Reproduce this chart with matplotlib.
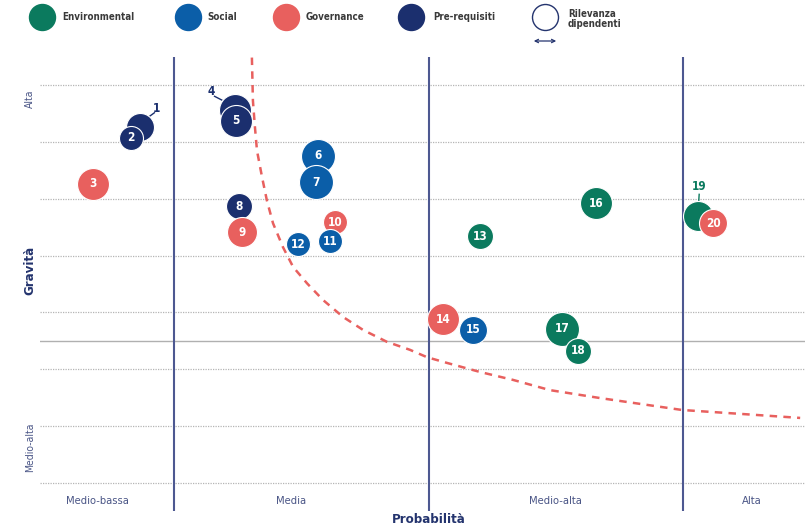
import matplotlib
matplotlib.use("Agg")
import matplotlib.pyplot as plt
from matplotlib import font_manager

names = {f.name for f in font_manager.fontManager.ttflist}
fam = "Liberation Sans Narrow" if "Liberation Sans Narrow" in names else "DejaVu Sans"
plt.rcParams['font.family'] = [fam, 'DejaVu Sans']
plt.rcParams['font.stretch'] = 'condensed'

# ---------------- data ----------------
ids = ["1", "2", "3", "4", "5", "6", "7", "8", "9", "10",
       "11", "12", "13", "14", "15", "16", "17", "18", "19", "20"]
categoria = ["Pre-requisiti", "Pre-requisiti", "Governance", "Pre-requisiti", "Pre-requisiti",
             "Social", "Social", "Pre-requisiti", "Governance", "Governance",
             "Social", "Social", "Environmental", "Governance", "Social",
             "Environmental", "Environmental", "Environmental", "Environmental", "Governance"]
probabilita = [0.866, 0.831, 0.682, 1.240, 1.244, 1.566, 1.558, 1.255, 1.267, 1.633,
               1.613, 1.487, 2.202, 2.057, 2.175, 2.658, 2.524, 2.587, 3.059, 3.118]
gravita = [6.27, 6.08, 5.27, 6.56, 6.38, 5.76, 5.29, 4.87, 4.41, 4.59,
           4.25, 4.20, 4.34, 2.88, 2.69, 4.92, 2.71, 2.32, 4.69, 4.57]
rilevanza = [14, 12, 16, 16, 16, 17, 17, 13, 15, 12,
             12, 12, 13, 16, 14, 16, 17, 13, 15, 14]

curve_x = [1.306, 1.310, 1.318, 1.326, 1.346, 1.365, 1.389, 1.428, 1.468, 1.523,
           1.585, 1.664, 1.743, 1.837, 1.927, 1.994, 2.072, 2.202, 2.332, 2.477,
           2.674, 2.996, 3.263, 3.460]
curve_y = [7.49, 6.73, 6.26, 5.85, 5.38, 4.97, 4.57, 4.15, 3.80, 3.51,
           3.22, 2.92, 2.69, 2.48, 2.34, 2.21, 2.11, 1.95, 1.81, 1.63,
           1.49, 1.28, 1.20, 1.14]

x_labels = ["Medio-bassa", "Media", "Medio-alta", "Alta"]
x_label_pos = [0.70, 1.46, 2.50, 3.27]
y_labels = ["Medio-alta", "Alta"]
y_label_pos = [0.62, 6.77]

legend_cats = ["Environmental", "Social", "Governance", "Pre-requisiti"]
colors = {"Environmental": "#0b7a5e", "Social": "#0b5ea8",
          "Governance": "#e8605e", "Pre-requisiti": "#1b2f6e"}
outside_labels = {"1": (0.067, 0.33), "4": (-0.095, 0.33), "19": (0.005, 0.52)}

NAVY = "#24346e"
TICK = "#4a5586"

# ---------------- figure ----------------
fig = plt.figure(figsize=(8.05, 5.29), dpi=100)
ax = fig.add_axes([40 / 805, 18 / 529, 765 / 805, 454 / 529])
ax.set_xlim(0.4735, 3.479)
ax.set_ylim(-0.5, 7.5)
ax.axis("off")

for g in range(8):
    ax.axhline(g, color="#b5b5b5", lw=0.9, ls=(0, (1, 1)), zorder=0)
ax.axhline(2.5, color="#b0b0b0", lw=1.0, zorder=0)
for v in (1, 2, 3):
    ax.axvline(v, color="#4d5891", lw=1.5, zorder=1)

ax.plot(curve_x, curve_y, color="#e8605e", lw=1.8, ls=(0, (3, 2.5)), zorder=1,
        solid_joinstyle="round")

px_to_pt = 0.72
for i, lab in enumerate(ids):
    c = colors[categoria[i]]
    d = 2 * rilevanza[i] * px_to_pt
    ax.scatter(probabilita[i], gravita[i], s=d ** 2, color=c, edgecolor="white",
               linewidth=0.8, zorder=3 + i)
    if lab in outside_labels:
        dx, dy = outside_labels[lab]
        tx, ty = probabilita[i] + dx, gravita[i] + dy
        ax.plot([probabilita[i] + dx * 0.55, tx - dx * 0.15],
                [gravita[i] + dy * 0.55, ty - dy * 0.25], color=c, lw=1, zorder=2)
        ax.text(tx, ty, lab, color=c, fontsize=8.5, fontweight="bold",
                ha="center", va="center", zorder=30)
    else:
        ax.text(probabilita[i], gravita[i], lab, color="white", fontsize=8.5,
                fontweight="bold", ha="center", va="center", zorder=3 + i)

for t, p in zip(x_labels, x_label_pos):
    ax.text(p, -0.33, t, color=TICK, fontsize=8, ha="center", va="center")
for t, p in zip(y_labels, y_label_pos):
    ax.text(0.4735 - 10 / 254.5, p, t, color=TICK, fontsize=7.5, rotation=90,
            ha="center", va="center", clip_on=False)
ax.text(0.4735 - 10 / 254.5, 3.74, "Gravità", color=NAVY, fontsize=9.5,
        fontweight="bold", rotation=90, ha="center", va="center", clip_on=False)
ax.text(2.0, -0.65, "Probabilità", color=NAVY, fontsize=9.5, fontweight="bold",
        ha="center", va="center", clip_on=False)

# ---------------- legend ----------------
lg = fig.add_axes([0, 0, 1, 1])
lg.set_xlim(0, 805)
lg.set_ylim(529, 0)
lg.axis("off")
leg_circle_x = [42, 188, 286, 411]
leg_text_x = [62, 207, 306, 433]
for cat, cx, tx in zip(legend_cats, leg_circle_x, leg_text_x):
    lg.scatter(cx, 17, s=(26 * px_to_pt) ** 2, color=colors[cat])
    lg.text(tx, 17, cat, color="#3a3a3a", fontsize=7, fontweight="semibold",
            ha="left", va="center")
lg.scatter(545, 17, s=(26 * px_to_pt) ** 2, facecolor="white", edgecolor=NAVY, linewidth=1)
lg.annotate("", xy=(531, 41), xytext=(559, 41),
            arrowprops=dict(arrowstyle="<->", color=NAVY, lw=0.9, mutation_scale=6))
lg.text(568, 19, "Rilevanza\ndipendenti", color="#3a3a3a", fontsize=7,
        fontweight="semibold", ha="left", va="center", linespacing=0.95)

fig.savefig("out.png", dpi=100)
